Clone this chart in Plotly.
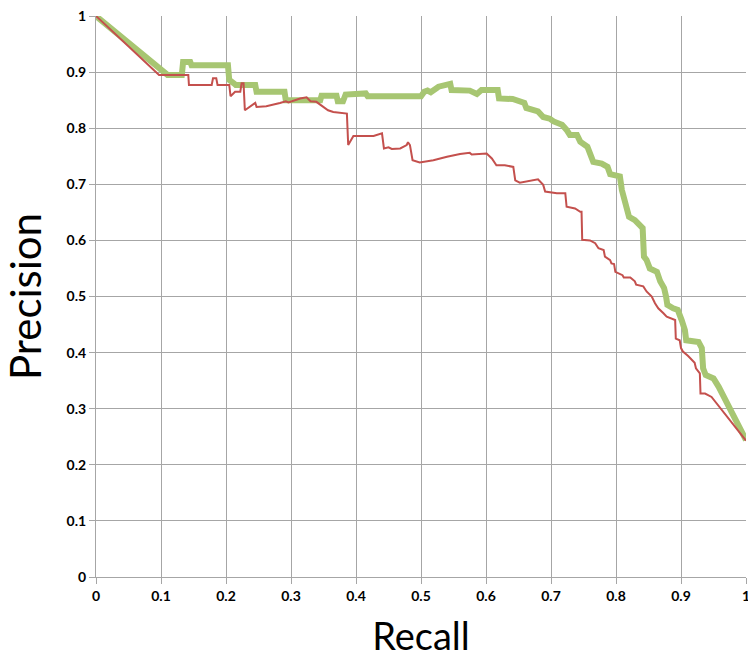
import plotly.graph_objects as go

# Green curve (thick)
green_recall = [0, 0.11, 0.132, 0.134, 0.145, 0.147, 0.203, 0.205, 0.212, 0.215, 0.245, 0.247, 0.290, 0.292,
                0.345, 0.347, 0.370, 0.372, 0.380, 0.384, 0.415, 0.418, 0.500, 0.505, 0.510, 0.515, 0.527,
                0.540, 0.545, 0.547, 0.575, 0.586, 0.593, 0.618, 0.620, 0.641, 0.659, 0.662, 0.680, 0.688,
                0.698, 0.704, 0.717, 0.724, 0.729, 0.740, 0.745, 0.756, 0.760, 0.765, 0.778, 0.787, 0.791,
                0.806, 0.809, 0.814, 0.820, 0.829, 0.841, 0.843, 0.847, 0.852, 0.863, 0.868, 0.874, 0.877,
                0.879, 0.888, 0.895, 0.901, 0.906, 0.908, 0.927, 0.932, 0.934, 0.938, 0.950, 0.958, 1.0]
green_precision = [1.0, 0.895, 0.895, 0.918, 0.918, 0.912, 0.912, 0.886, 0.880, 0.877, 0.877, 0.865, 0.865, 0.850,
                   0.850, 0.858, 0.858, 0.848, 0.848, 0.860, 0.862, 0.857, 0.857, 0.865, 0.867, 0.864, 0.874,
                   0.879, 0.879, 0.868, 0.867, 0.861, 0.868, 0.868, 0.853, 0.852, 0.845, 0.836, 0.830, 0.820,
                   0.817, 0.812, 0.806, 0.797, 0.788, 0.788, 0.776, 0.767, 0.755, 0.740, 0.737, 0.731, 0.718,
                   0.714, 0.690, 0.669, 0.642, 0.636, 0.622, 0.571, 0.565, 0.550, 0.544, 0.527, 0.515, 0.500,
                   0.485, 0.479, 0.476, 0.458, 0.440, 0.422, 0.419, 0.408, 0.372, 0.360, 0.354, 0.339, 0.244]

# Red curve (thin)
red_recall = [0, 0.097, 0.142, 0.143, 0.178, 0.180, 0.185, 0.187, 0.205, 0.207, 0.214, 0.222, 0.224, 0.227,
              0.229, 0.245, 0.247, 0.262, 0.283, 0.292, 0.296, 0.314, 0.324, 0.330, 0.339, 0.350, 0.357,
              0.365, 0.386, 0.388, 0.396, 0.427, 0.440, 0.443, 0.450, 0.455, 0.468, 0.478, 0.480, 0.483,
              0.487, 0.498, 0.519, 0.540, 0.560, 0.575, 0.578, 0.601, 0.609, 0.616, 0.629, 0.642, 0.645,
              0.652, 0.680, 0.688, 0.691, 0.709, 0.722, 0.724, 0.737, 0.745, 0.747, 0.748, 0.760, 0.768,
              0.773, 0.781, 0.783, 0.791, 0.793, 0.797, 0.799, 0.810, 0.812, 0.822, 0.829, 0.831, 0.842,
              0.847, 0.855, 0.860, 0.865, 0.873, 0.878, 0.891, 0.892, 0.898, 0.900, 0.903, 0.911, 0.921,
              0.923, 0.929, 0.930, 0.937, 0.947, 1.0]
red_precision = [1.0, 0.895, 0.895, 0.877, 0.877, 0.889, 0.889, 0.877, 0.877, 0.857, 0.865, 0.865, 0.880, 0.880,
                 0.832, 0.845, 0.838, 0.839, 0.845, 0.848, 0.846, 0.853, 0.855, 0.848, 0.847, 0.838, 0.832,
                 0.829, 0.826, 0.770, 0.786, 0.786, 0.791, 0.764, 0.766, 0.763, 0.764, 0.770, 0.775, 0.770,
                 0.743, 0.739, 0.743, 0.749, 0.754, 0.756, 0.753, 0.755, 0.746, 0.734, 0.734, 0.731, 0.707,
                 0.703, 0.709, 0.699, 0.687, 0.684, 0.684, 0.660, 0.657, 0.651, 0.651, 0.601, 0.600, 0.595,
                 0.586, 0.583, 0.571, 0.565, 0.559, 0.558, 0.544, 0.538, 0.534, 0.534, 0.527, 0.521, 0.518,
                 0.509, 0.500, 0.488, 0.479, 0.470, 0.464, 0.458, 0.425, 0.422, 0.408, 0.402, 0.394, 0.382,
                 0.372, 0.363, 0.327, 0.327, 0.321, 0.243]

tick_vals = [0, 0.1, 0.2, 0.3, 0.4, 0.5, 0.6, 0.7, 0.8, 0.9, 1.0]
tick_text = ["0", "0.1", "0.2", "0.3", "0.4", "0.5", "0.6", "0.7", "0.8", "0.9", "1"]

fig = go.Figure()
fig.add_trace(go.Scatter(x=green_recall, y=green_precision, mode="lines",
                         line=dict(color="#a7c672", width=6), showlegend=False, cliponaxis=False))
fig.add_trace(go.Scatter(x=red_recall, y=red_precision, mode="lines",
                         line=dict(color="#c4504d", width=2), showlegend=False, cliponaxis=False))

axis_common = dict(
    range=[0, 1], tickvals=tick_vals, ticktext=tick_text,
    showgrid=True, gridcolor="#a6a6a6", gridwidth=1,
    zeroline=False, showline=True, linecolor="#a6a6a6", linewidth=1,
    ticks="outside", ticklen=6, tickcolor="#a6a6a6",
    tickfont=dict(family="Lato", size=14, color="#000000", weight="bold"),
    ticklabeloverflow="allow",
    automargin=False,
    fixedrange=True,
)

fig.update_layout(
    width=748, height=662,
    margin=dict(l=96, r=2, t=16, b=85),
    paper_bgcolor="white", plot_bgcolor="white",
    xaxis=dict(**axis_common,
               title=dict(text="Recall", font=dict(family="Lato", size=38, color="#000000"), standoff=20)),
    yaxis=dict(**axis_common,
               title=dict(text="Precision", font=dict(family="Lato", size=42, color="#000000"), standoff=16)),
)

fig.write_html("out.html", config={"displayModeBar": False},
               post_script="document.body.style.margin='0';document.body.style.overflow='hidden';")
